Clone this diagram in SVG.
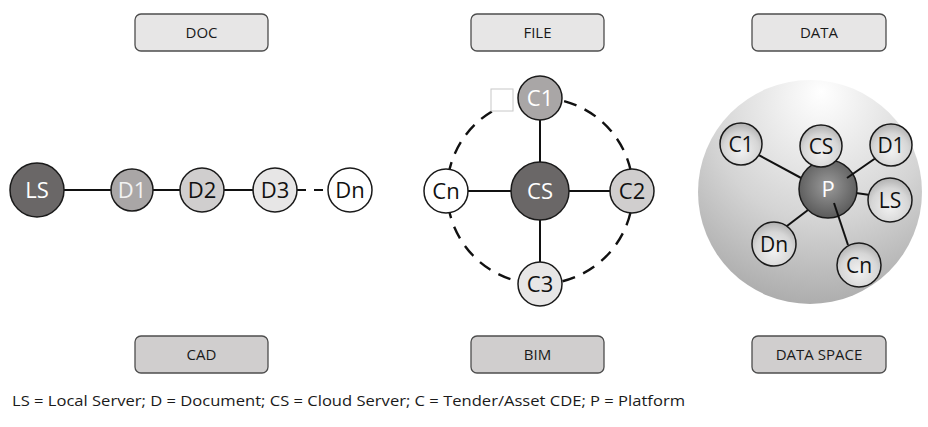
<svg xmlns="http://www.w3.org/2000/svg" width="928" height="427" viewBox="0 0 928 427">
  <defs>
    <radialGradient id="sphere" cx="0.55" cy="0.2" r="0.9" fx="0.55" fy="0.05">
      <stop offset="0" stop-color="#ffffff"/>
      <stop offset="0.55" stop-color="#d4d4d4"/>
      <stop offset="1" stop-color="#a3a3a3"/>
    </radialGradient>
    <radialGradient id="bubble" cx="0.5" cy="0.65" r="0.7">
      <stop offset="0" stop-color="#f2f2f2"/>
      <stop offset="0.6" stop-color="#d6d6d6"/>
      <stop offset="1" stop-color="#a8a8a8"/>
    </radialGradient>
    <radialGradient id="core" cx="0.5" cy="0.45" r="0.6">
      <stop offset="0" stop-color="#9a9a9a"/>
      <stop offset="1" stop-color="#555555"/>
    </radialGradient>
  </defs>
  <style>
    .box-top { fill: #e7e6e6; stroke: #4d4d4d; stroke-width: 1.3; }
    .box-bot { fill: #d0cece; stroke: #4d4d4d; stroke-width: 1.3; }
    .box-label { font-family: "Open Sans", "Liberation Sans", sans-serif; font-size: 15px; fill: #1a1a1a; text-anchor: middle; }
    .node { stroke: #1a1a1a; stroke-width: 1.5; }
    .node-label { font-family: "Open Sans", "Liberation Sans", sans-serif; font-size: 22px; text-anchor: middle; }
    .small-label { font-family: "Open Sans", "Liberation Sans", sans-serif; font-size: 21px; text-anchor: middle; fill: #111; }
    .link { stroke: #111; stroke-width: 2; fill: none; }
    .ring { stroke: #111; stroke-width: 2.4; fill: none; stroke-dasharray: 13 9; }
    .legend { font-family: "Open Sans", "Liberation Sans", sans-serif; font-size: 14.5px; fill: #1a1a1a; }
  </style>

  <rect width="928" height="427" fill="#ffffff"/>

  <!-- category boxes -->
  <g id="box-doc"><rect class="box-top" x="135" y="14" width="133" height="37" rx="6"/><text class="box-label" x="201.5" y="38">DOC</text></g>
  <g id="box-file"><rect class="box-top" x="471" y="14" width="133" height="37" rx="6"/><text class="box-label" x="537.5" y="38">FILE</text></g>
  <g id="box-data"><rect class="box-top" x="752" y="14" width="134" height="37" rx="6"/><text class="box-label" x="819" y="38">DATA</text></g>
  <g id="box-cad"><rect class="box-bot" x="135" y="336" width="133" height="37" rx="6"/><text class="box-label" x="201.5" y="360">CAD</text></g>
  <g id="box-bim"><rect class="box-bot" x="471" y="336" width="133" height="37" rx="6"/><text class="box-label" x="537.5" y="360">BIM</text></g>
  <g id="box-dataspace"><rect class="box-bot" x="752" y="336" width="134" height="37" rx="6"/><text class="box-label" x="819" y="360">DATA SPACE</text></g>

  <!-- connectors -->
  <g id="connectors">
    <!-- CAD chain -->
    <line class="link" x1="64" y1="190" x2="112" y2="190"/>
    <line class="link" x1="153" y1="190" x2="181" y2="190"/>
    <line class="link" x1="224" y1="190" x2="254" y2="190"/>
    <line class="link" x1="297" y1="190" x2="328" y2="190" stroke-dasharray="9 8"/>
    <!-- BIM ring and spokes -->
    <circle class="ring" cx="540" cy="191" r="93"/>
    <line class="link" x1="540" y1="120" x2="540" y2="162"/>
    <line class="link" x1="540" y1="220" x2="540" y2="262"/>
    <line class="link" x1="468" y1="191" x2="511" y2="191"/>
    <line class="link" x1="569" y1="191" x2="611" y2="191"/>
  </g>

  <!-- blank marker over the ring near C1 -->
  <rect x="491" y="89" width="22" height="22" fill="#ffffff" stroke="#c8c8c8" stroke-width="1"/>

  <!-- CAD nodes -->
  <g id="node-ls"><circle class="node" cx="37" cy="190" r="27" fill="#6a6767"/><text class="node-label" x="37" y="198" fill="#ffffff">LS</text></g>
  <g id="node-d1"><circle class="node" cx="132" cy="190" r="21" fill="#a9a6a6"/><text class="node-label" x="132" y="198" fill="#f2f2f2">D1</text></g>
  <g id="node-d2"><circle class="node" cx="202" cy="190" r="22" fill="#d0cece"/><text class="node-label" x="202" y="198" fill="#111">D2</text></g>
  <g id="node-d3"><circle class="node" cx="275" cy="190" r="22" fill="#e7e6e6"/><text class="node-label" x="275" y="198" fill="#111">D3</text></g>
  <g id="node-dn"><circle class="node" cx="350" cy="190" r="22" fill="#ffffff"/><text class="node-label" x="350" y="198" fill="#111">Dn</text></g>

  <!-- BIM nodes -->
  <g id="node-cs"><circle class="node" cx="540" cy="191" r="29" fill="#6a6767"/><text class="node-label" x="540" y="199" fill="#ffffff">CS</text></g>
  <g id="node-c1"><circle class="node" cx="540" cy="98" r="22" fill="#a9a6a6"/><text class="node-label" x="540" y="106" fill="#ffffff">C1</text></g>
  <g id="node-c2"><circle class="node" cx="632" cy="191" r="22" fill="#d0cece"/><text class="node-label" x="632" y="199" fill="#111">C2</text></g>
  <g id="node-c3"><circle class="node" cx="540" cy="284" r="22" fill="#e7e6e6"/><text class="node-label" x="540" y="292" fill="#111">C3</text></g>
  <g id="node-cn"><circle class="node" cx="446" cy="191" r="22" fill="#ffffff"/><text class="node-label" x="446" y="199" fill="#111">Cn</text></g>

  <!-- data space sphere -->
  <g id="data-space">
    <circle cx="810" cy="192" r="112" fill="url(#sphere)"/>
    <g class="spokes">
      <line class="link" x1="753" y1="152" x2="803" y2="179"/>
      <line class="link" x1="823" y1="153" x2="825" y2="162"/>
      <line class="link" x1="856" y1="193" x2="870" y2="195"/>
      <line class="link" x1="808" y1="210" x2="783" y2="229"/>
    </g>
    <g id="node-p"><circle class="node" cx="828" cy="189" r="29" fill="url(#core)"/><text class="node-label" x="828" y="197" fill="#ffffff">P</text></g>
    <g class="spokes">
      <line class="link" x1="847" y1="178" x2="880" y2="155"/>
      <line class="link" x1="834" y1="203" x2="848" y2="245"/>
    </g>
    <g id="node-p-c1"><circle class="node" cx="741" cy="144" r="21" fill="url(#bubble)"/><text class="small-label" x="741" y="152">C1</text></g>
    <g id="node-p-cs"><circle class="node" cx="821" cy="146" r="21" fill="url(#bubble)"/><text class="small-label" x="821" y="154">CS</text></g>
    <g id="node-p-d1"><circle class="node" cx="891" cy="145" r="21" fill="url(#bubble)"/><text class="small-label" x="891" y="153">D1</text></g>
    <g id="node-p-ls"><circle class="node" cx="890" cy="200" r="22" fill="url(#bubble)"/><text class="small-label" x="890" y="208">LS</text></g>
    <g id="node-p-dn"><circle class="node" cx="774" cy="244" r="22" fill="url(#bubble)"/><text class="small-label" x="774" y="252">Dn</text></g>
    <g id="node-p-cn"><circle class="node" cx="859" cy="265" r="22" fill="url(#bubble)"/><text class="small-label" x="859" y="273">Cn</text></g>
  </g>

  <!-- legend -->
  <text class="legend" x="12" y="406" textLength="673" lengthAdjust="spacingAndGlyphs">LS = Local Server; D = Document; CS = Cloud Server; C = Tender/Asset CDE; P = Platform</text>
</svg>
